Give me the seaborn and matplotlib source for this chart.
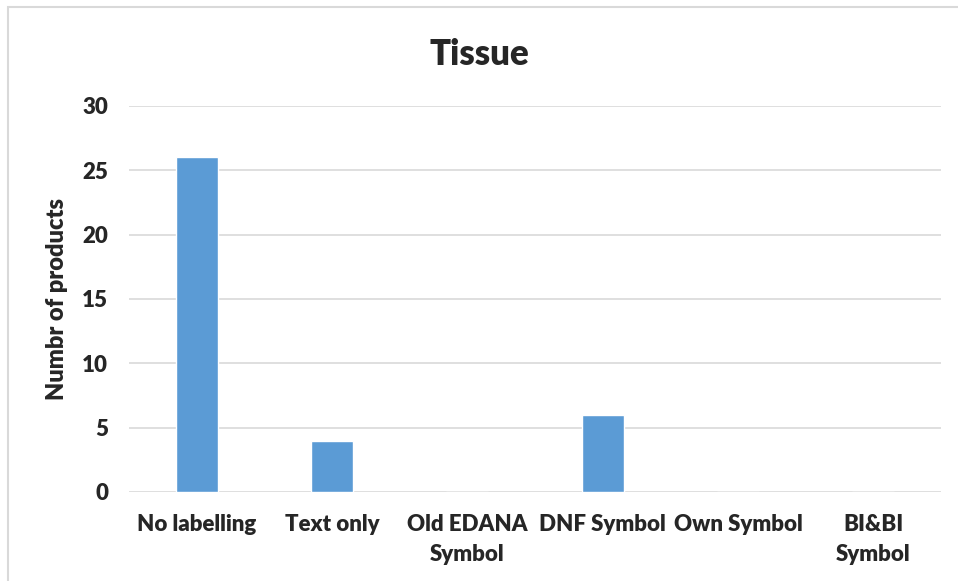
import matplotlib.pyplot as plt
import seaborn as sns
import pandas as pd
from matplotlib.patches import Rectangle

# values
categories = ['No labelling', 'Text only', 'Old EDANA\nSymbol', 'DNF Symbol', 'Own Symbol', 'BI&BI\nSymbol']
products = [26, 4, 0, 6, 0, 0]
y_ticks = [0, 5, 10, 15, 20, 25, 30]

bar_color = '#5B9BD5'
grid_color = '#D9D9D9'

sns.set_style('white')
plt.rcParams['font.family'] = ['Lato', 'DejaVu Sans']

df = pd.DataFrame({'category': categories, 'count': products})

fig = plt.figure(figsize=(9.58, 5.81), dpi=100)
ax = fig.add_axes([0.1347, 0.1532, 0.8476, 0.6644])

sns.barplot(data=df, x='category', y='count', color=bar_color, width=0.31,
            saturation=1, ax=ax)

ax.set_ylim(0, 30)
ax.set_yticks(y_ticks)
ax.set_yticklabels([str(t) for t in y_ticks], fontsize=16, fontweight='heavy')
ax.set_xticks(range(len(categories)))
ax.set_xticklabels(categories, fontsize=16, fontweight='heavy', linespacing=1.5)
ax.tick_params(axis='both', length=0)
ax.tick_params(axis='y', pad=15)
ax.tick_params(axis='x', pad=16)
ax.yaxis.grid(True, color=grid_color, linewidth=1.2)
ax.set_axisbelow(True)
for s in ax.spines.values():
    s.set_visible(False)

ax.set_xlabel('')
ax.set_ylabel('Numbr of products', fontsize=17, fontweight='heavy', labelpad=10)
fig.text(0.5, 0.907, 'Tissue', ha='center', va='center', fontsize=25, fontweight='heavy')

# outer chart frame
fig.patches.append(Rectangle((8 / 958, -0.1), 1.2, 1.1 - 7 / 581, transform=fig.transFigure,
                             fill=False, edgecolor='#D9D9D9', linewidth=1.5))

fig.savefig('out.png', dpi=100)
